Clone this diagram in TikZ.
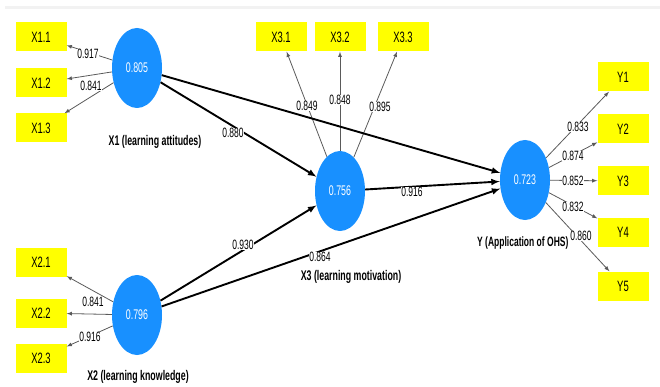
\documentclass[tikz,border=0pt]{standalone}
\usepackage{fontspec}
\usetikzlibrary{shapes.geometric}
\newfontfamily\plsfont{Liberation Sans}[FakeStretch=0.63]
\definecolor{plsblue}{RGB}{24,144,255}
\definecolor{plsyellow}{RGB}{255,255,0}
\definecolor{plsgray}{RGB}{90,90,90}
\tikzset{
  construct/.style={ellipse, fill=plsblue, text=white, minimum width=50pt,
    minimum height=80pt, inner sep=0pt, font=\plsfont\fontsize{14}{14}\selectfont},
  indicator/.style={rectangle, fill=plsyellow, minimum width=51pt,
    minimum height=29pt, inner sep=0pt, font=\plsfont\fontsize{15}{15}\selectfont},
  loading/.style={draw=plsgray, line width=0.8pt, -latex},
  structural/.style={draw=black, line width=1.9pt, -latex},
  coef/.style={fill=white, inner sep=0.6pt, font=\plsfont\fontsize{13.5}{13.5}\selectfont},
  cname/.style={inner sep=0pt, font=\plsfont\bfseries\fontsize{14}{14}\selectfont}
}
\begin{document}
\begin{tikzpicture}[x=1pt,y=-1pt]
        \useasboundingbox (0,0) rectangle (660,387);
        \fill[gray!10] (5,6) rectangle (660,9);
        % constructs
        \node[construct] at (137,68)  (X1) {0.805};
        \node[construct] at (137,315) (X2) {0.796};
        \node[construct] at (340,191) (X3) {0.756};
        \node[construct] at (525,180) (Y)  {0.723};
        % indicators
        \node[indicator] at (41,37)   (X11) {X1.1};
        \node[indicator] at (41,83)   (X12) {X1.2};
        \node[indicator] at (41,128)  (X13) {X1.3};
        \node[indicator] at (41,262)  (X21) {X2.1};
        \node[indicator] at (41,313)  (X22) {X2.2};
        \node[indicator] at (41,358)  (X23) {X2.3};
        \node[indicator] at (281,37)  (X31) {X3.1};
        \node[indicator] at (340,37)  (X32) {X3.2};
        \node[indicator] at (403,37)  (X33) {X3.3};
        \node[indicator] at (623,77)  (Y1) {Y1};
        \node[indicator] at (623,129) (Y2) {Y2};
        \node[indicator] at (623,181) (Y3) {Y3};
        \node[indicator] at (623,232) (Y4) {Y4};
        \node[indicator] at (623,286) (Y5) {Y5};
        % construct names
        \node[cname] at (155,142) (nX1) {X1 (learning attitudes)};
        \node[cname] at (138,377) (nX2) {X2 (learning knowledge)};
        \node[cname] at (351,277) (nX3) {X3 (learning motivation)};
        \node[cname, anchor=west, font=\plsfont\bfseries\fontsize{13.5}{13.5}\selectfont]
          at (477,243) (nY) {Y (Application of OHS)};
        % outer loadings
        \draw[loading] (X1) -- (X11);
        \draw[loading] (X1) -- (X12);
        \draw[loading] (X1) -- (X13);
        \draw[loading] (X2) -- (X21);
        \draw[loading] (X2) -- (X22);
        \draw[loading] (X2) -- (X23);
        \draw[loading] (X3) -- (X31);
        \draw[loading] (X3) -- (X32);
        \draw[loading] (X3) -- (X33);
        \draw[loading] (Y) -- (Y1);
        \draw[loading] (Y) -- (Y2);
        \draw[loading] (Y) -- (Y3);
        \draw[loading] (Y) -- (Y4);
        \draw[loading] (Y) -- (Y5);
        % inner paths
        \draw[structural] (X1) -- (X3);
        \draw[structural] (X2) -- (X3);
        \draw[structural] (X1) -- (Y);
        \draw[structural] (X3) -- (Y);
        \draw[structural] (X2) -- (Y);
        % coefficients
        \node[coef] at (88,54)   (c11) {0.917};
        \node[coef] at (91,86)   (c13) {0.841};
        \node[coef] at (93,302)  (c21) {0.841};
        \node[coef] at (90,337)  (c23) {0.916};
        \node[coef] at (307,106) (c31) {0.849};
        \node[coef] at (340,100) (c32) {0.848};
        \node[coef] at (380,107) (c33) {0.895};
        \node[coef] at (578,127) (cY1) {0.833};
        \node[coef] at (573,156) (cY2) {0.874};
        \node[coef] at (573,181) (cY3) {0.852};
        \node[coef] at (573,207) (cY4) {0.832};
        \node[coef] at (581,236) (cY5) {0.860};
        \node[coef] at (233,133) (b13) {0.880};
        \node[coef] at (243,245) (b23) {0.930};
        \node[coef] at (412,192) (b3Y) {0.916};
        \node[coef] at (320,257) (b2Y) {0.864};
      \end{tikzpicture}
\end{document}
